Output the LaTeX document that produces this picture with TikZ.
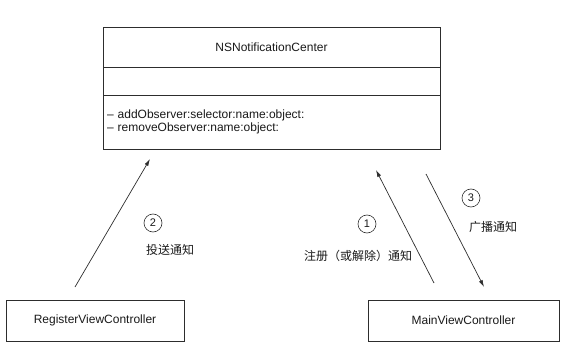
\documentclass[tikz,border=0pt]{standalone}
\usepackage{fontspec}
\setmainfont{Liberation Sans}
\newfontfamily\cjk{Noto Sans CJK SC}
\usetikzlibrary{positioning,arrows.meta}
\definecolor{ncLine}{RGB}{45,45,45}
\definecolor{ncText}{RGB}{25,25,25}

\begin{document}
\begin{tikzpicture}[x=1pt, y=-1pt,
  cls/.style={draw=ncLine, line width=0.7pt, minimum width=337pt, inner sep=4pt,
              text=ncText, font=\fontsize{12}{12.5}\selectfont},
  ctrl/.style={draw=ncLine, line width=0.7pt, minimum height=41pt,
               text=ncText, font=\fontsize{12}{13}\selectfont},
  num/.style={circle, draw=ncLine, line width=0.6pt, minimum size=18pt, inner sep=0pt,
              text=ncText, font=\fontsize{11}{12}\selectfont},
  lbl/.style={text=ncText, font=\cjk\fontsize{12}{14}\selectfont},
  arr/.style={-{Latex[length=7pt, width=4pt]}, line width=0.7pt, ncLine}]
  \useasboundingbox (0,0) rectangle (568,350);

  % notification center class box
  \node[cls, minimum height=40pt] (center) at (271.5,47) {NSNotificationCenter};
  \node[cls, minimum height=28pt, below=-0.7pt of center] (attrs) {};
  \node[cls, minimum height=54pt, below=-0.7pt of attrs, text width=329pt, align=left] (ops)
    {– addObserver:selector:name:object:\\– removeObserver:name:object:};

  % controllers
  \node[ctrl, minimum width=178pt] (reg) at (95,320.5) {RegisterViewController};
  \node[ctrl, minimum width=191pt] (main) at (463.5,320.5) {MainViewController};

  % arrow ends
  \coordinate (postFrom) at (75,287);
  \coordinate (postTo) at (150,159);
  \coordinate (addFrom) at (434,283);
  \coordinate (addTo) at (376,170);
  \coordinate (sendFrom) at (426,174);
  \coordinate (sendTo) at (484,287);

  \draw[arr] (postFrom) -- (postTo);
  \draw[arr] (addFrom) -- (addTo);
  \draw[arr] (sendFrom) -- (sendTo);

  % labels
  \node[num] (n2) at (153,223) {2};
  \node[lbl] (post) at (170,250) {投送通知};
  \node[num] (n1) at (367,224) {1};
  \node[lbl] (add) at (358,256) {注册（或解除）通知};
  \node[num] (n3) at (471,198) {3};
  \node[lbl] (send) at (493,227) {广播通知};
\end{tikzpicture}
\end{document}
